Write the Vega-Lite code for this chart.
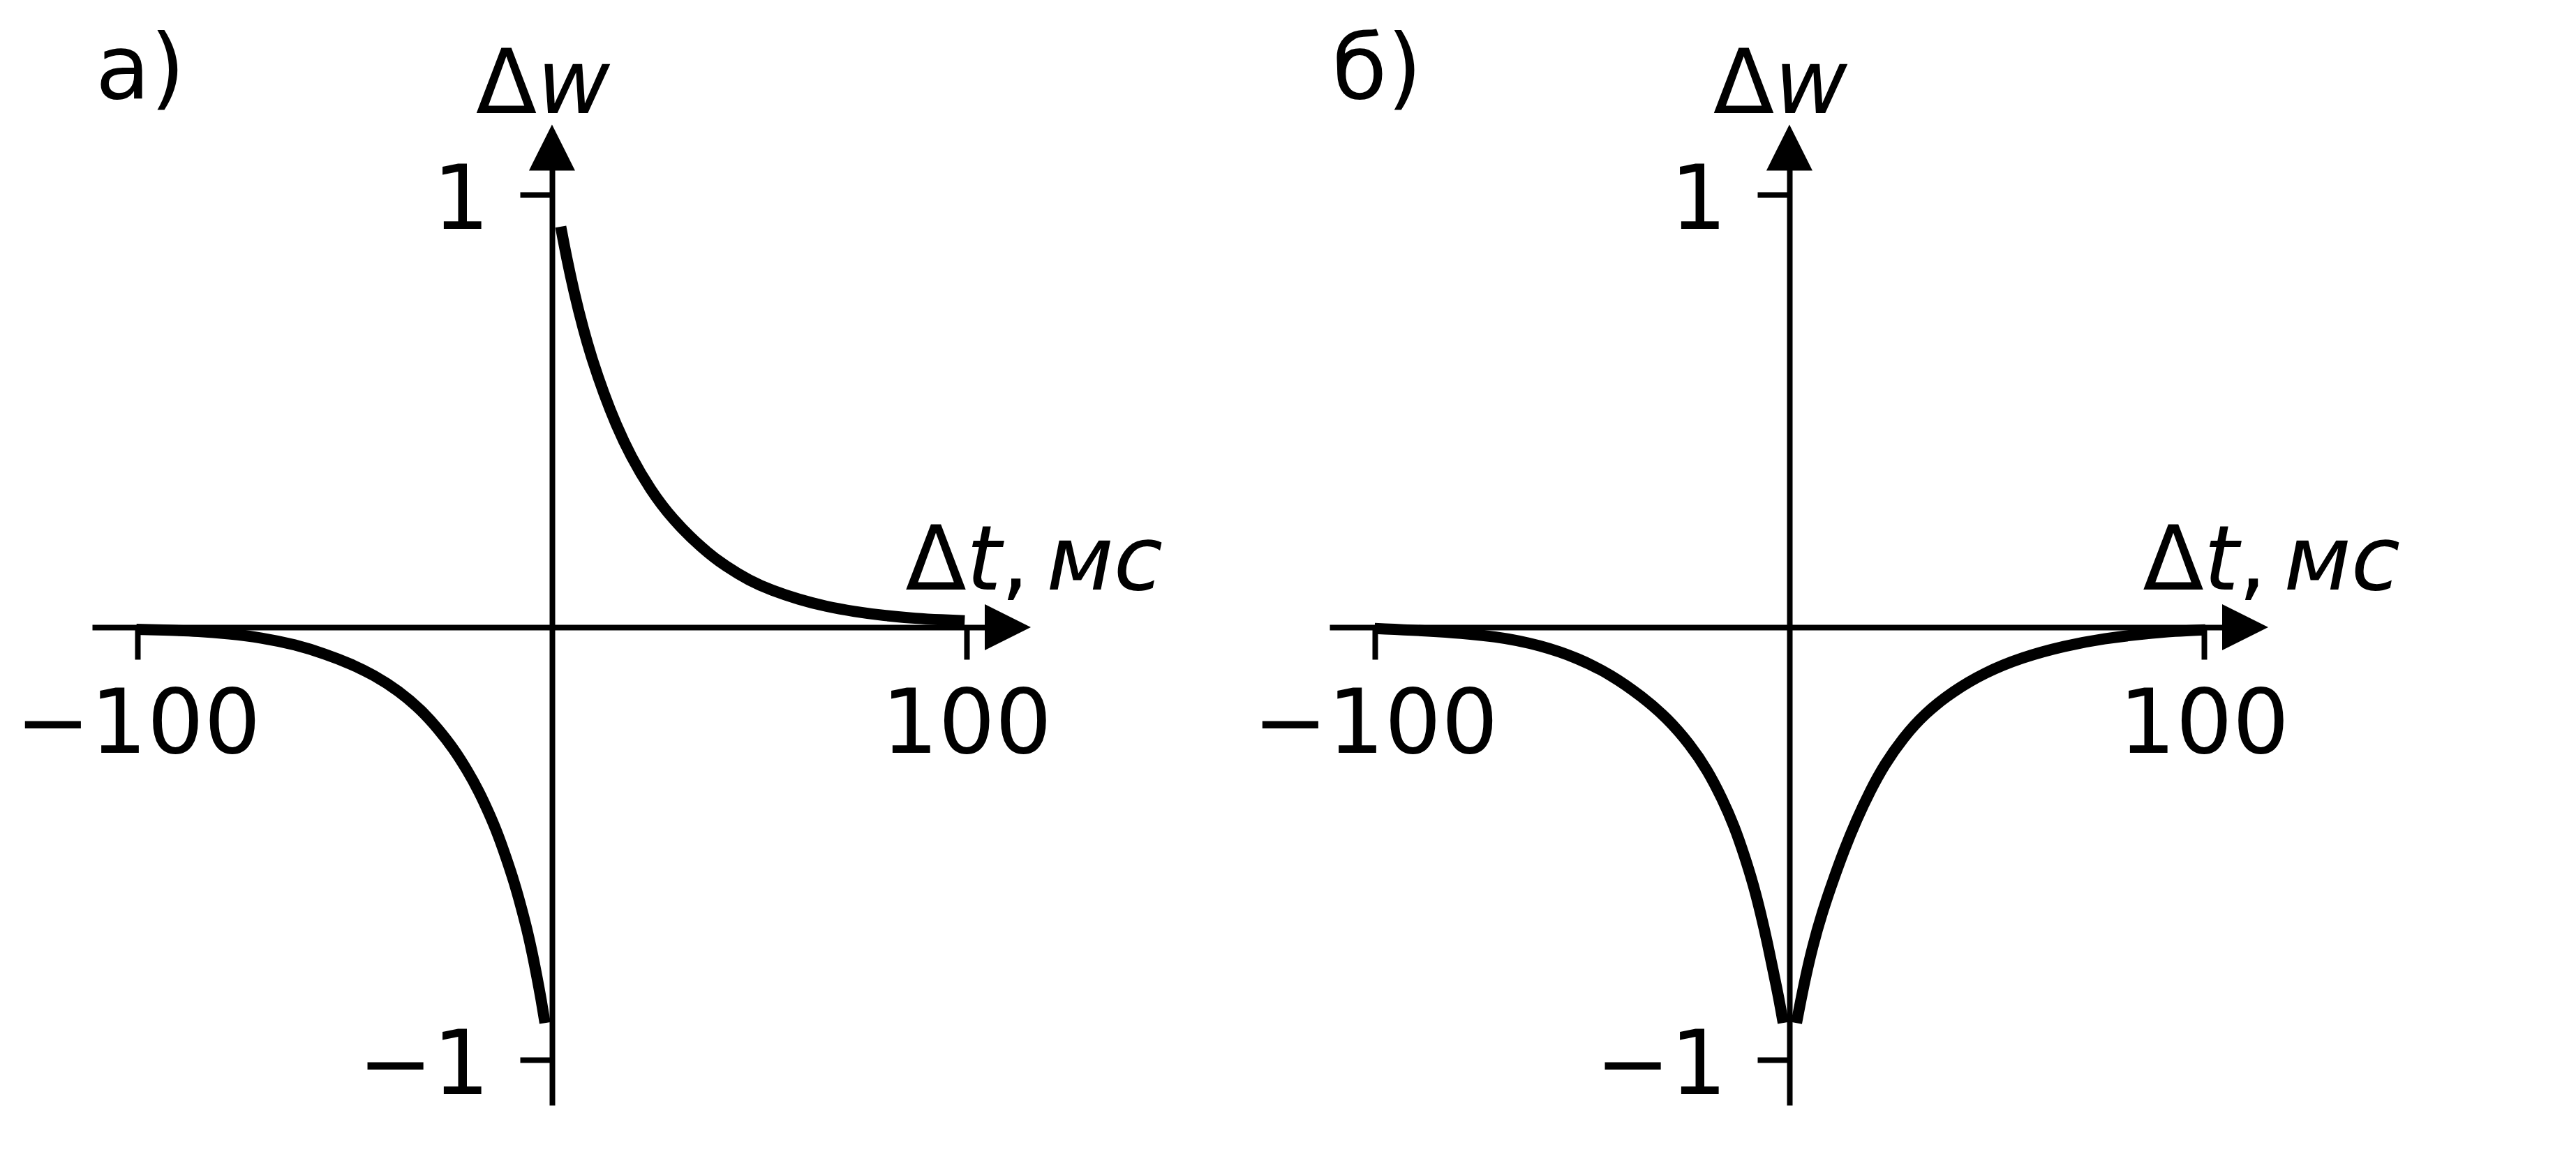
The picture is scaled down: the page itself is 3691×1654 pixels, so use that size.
{
  "$schema": "https://vega.github.io/schema/vega-lite/v6.json",
  "background": "white",
  "padding": {"left": 21, "top": 39, "right": 0, "bottom": 0},
  "autosize": {"type": "pad"},
  "bounds": "flush",
  "spacing": 461,
  "config": {
    "view": {"stroke": null},
    "font": "DejaVu Sans",
    "axis": {
      "grid": false,
      "domainColor": "black",
      "domainWidth": 8,
      "tickColor": "black",
      "tickWidth": 8,
      "tickSize": 46,
      "labelFont": "DejaVu Sans",
      "labelFontSize": 128,
      "labelColor": "black",
      "labelFlush": false,
      "labelOverlap": false,
      "labelBound": false,
      "labelLimit": 0,
      "title": null
    },
    "axisX": {"labelBaseline": "alphabetic", "labelPadding": 133},
    "axisY": {"labelBaseline": "alphabetic", "labelOffset": 49, "labelPadding": 44}
  },
  "datasets": {
    "curves": [
      {"panel": "a", "seg": "pos", "t": 2.1, "w": 0.926},
      {"panel": "a", "seg": "pos", "t": 3.5, "w": 0.855},
      {"panel": "a", "seg": "pos", "t": 5.3, "w": 0.775},
      {"panel": "a", "seg": "pos", "t": 7.5, "w": 0.69},
      {"panel": "a", "seg": "pos", "t": 9.8, "w": 0.615},
      {"panel": "a", "seg": "pos", "t": 12.5, "w": 0.54},
      {"panel": "a", "seg": "pos", "t": 15.4, "w": 0.469},
      {"panel": "a", "seg": "pos", "t": 19, "w": 0.395},
      {"panel": "a", "seg": "pos", "t": 23.7, "w": 0.318},
      {"panel": "a", "seg": "pos", "t": 29, "w": 0.25},
      {"panel": "a", "seg": "pos", "t": 36.3, "w": 0.181},
      {"panel": "a", "seg": "pos", "t": 42, "w": 0.14},
      {"panel": "a", "seg": "pos", "t": 47.6, "w": 0.108},
      {"panel": "a", "seg": "pos", "t": 53, "w": 0.085},
      {"panel": "a", "seg": "pos", "t": 59.6, "w": 0.064},
      {"panel": "a", "seg": "pos", "t": 66, "w": 0.048},
      {"panel": "a", "seg": "pos", "t": 73, "w": 0.036},
      {"panel": "a", "seg": "pos", "t": 80, "w": 0.027},
      {"panel": "a", "seg": "pos", "t": 88, "w": 0.02},
      {"panel": "a", "seg": "pos", "t": 94, "w": 0.017},
      {"panel": "a", "seg": "pos", "t": 99.6, "w": 0.015},
      {"panel": "a", "seg": "neg", "t": -100.3, "w": -0.005},
      {"panel": "a", "seg": "neg", "t": -92, "w": -0.007},
      {"panel": "a", "seg": "neg", "t": -85.6, "w": -0.009},
      {"panel": "a", "seg": "neg", "t": -78, "w": -0.015},
      {"panel": "a", "seg": "neg", "t": -70.2, "w": -0.024},
      {"panel": "a", "seg": "neg", "t": -62, "w": -0.04},
      {"panel": "a", "seg": "neg", "t": -54.7, "w": -0.062},
      {"panel": "a", "seg": "neg", "t": -48.5, "w": -0.085},
      {"panel": "a", "seg": "neg", "t": -43.1, "w": -0.11},
      {"panel": "a", "seg": "neg", "t": -37, "w": -0.147},
      {"panel": "a", "seg": "neg", "t": -31.5, "w": -0.192},
      {"panel": "a", "seg": "neg", "t": -27.5, "w": -0.235},
      {"panel": "a", "seg": "neg", "t": -23.8, "w": -0.28},
      {"panel": "a", "seg": "neg", "t": -20.5, "w": -0.33},
      {"panel": "a", "seg": "neg", "t": -17.6, "w": -0.38},
      {"panel": "a", "seg": "neg", "t": -15.2, "w": -0.43},
      {"panel": "a", "seg": "neg", "t": -13, "w": -0.48},
      {"panel": "a", "seg": "neg", "t": -11, "w": -0.535},
      {"panel": "a", "seg": "neg", "t": -9.1, "w": -0.59},
      {"panel": "a", "seg": "neg", "t": -7.5, "w": -0.645},
      {"panel": "a", "seg": "neg", "t": -6, "w": -0.70},
      {"panel": "a", "seg": "neg", "t": -4.8, "w": -0.752},
      {"panel": "a", "seg": "neg", "t": -3.7, "w": -0.805},
      {"panel": "a", "seg": "neg", "t": -2.6, "w": -0.862},
      {"panel": "a", "seg": "neg", "t": -1.7, "w": -0.915},
      {"panel": "b", "seg": "left", "t": -100.1, "w": -0.003},
      {"panel": "b", "seg": "left", "t": -85, "w": -0.009},
      {"panel": "b", "seg": "left", "t": -70.4, "w": -0.021},
      {"panel": "b", "seg": "left", "t": -60, "w": -0.042},
      {"panel": "b", "seg": "left", "t": -51.1, "w": -0.071},
      {"panel": "b", "seg": "left", "t": -43, "w": -0.11},
      {"panel": "b", "seg": "left", "t": -35.6, "w": -0.16},
      {"panel": "b", "seg": "left", "t": -29.5, "w": -0.21},
      {"panel": "b", "seg": "left", "t": -24, "w": -0.271},
      {"panel": "b", "seg": "left", "t": -19.8, "w": -0.33},
      {"panel": "b", "seg": "left", "t": -16.2, "w": -0.397},
      {"panel": "b", "seg": "left", "t": -13.3, "w": -0.46},
      {"panel": "b", "seg": "left", "t": -10.8, "w": -0.53},
      {"panel": "b", "seg": "left", "t": -8.7, "w": -0.595},
      {"panel": "b", "seg": "left", "t": -6.9, "w": -0.663},
      {"panel": "b", "seg": "left", "t": -5.3, "w": -0.73},
      {"panel": "b", "seg": "left", "t": -3.9, "w": -0.796},
      {"panel": "b", "seg": "left", "t": -2.6, "w": -0.855},
      {"panel": "b", "seg": "left", "t": -1.5, "w": -0.915},
      {"panel": "b", "seg": "right", "t": 1.7, "w": -0.915},
      {"panel": "b", "seg": "right", "t": 3.5, "w": -0.825},
      {"panel": "b", "seg": "right", "t": 5.6, "w": -0.737},
      {"panel": "b", "seg": "right", "t": 7.9, "w": -0.66},
      {"panel": "b", "seg": "right", "t": 10.4, "w": -0.589},
      {"panel": "b", "seg": "right", "t": 13.2, "w": -0.515},
      {"panel": "b", "seg": "right", "t": 16.2, "w": -0.445},
      {"panel": "b", "seg": "right", "t": 19.5, "w": -0.378},
      {"panel": "b", "seg": "right", "t": 22.9, "w": -0.318},
      {"panel": "b", "seg": "right", "t": 27.5, "w": -0.255},
      {"panel": "b", "seg": "right", "t": 32.6, "w": -0.2},
      {"panel": "b", "seg": "right", "t": 39.5, "w": -0.148},
      {"panel": "b", "seg": "right", "t": 47.1, "w": -0.105},
      {"panel": "b", "seg": "right", "t": 56, "w": -0.07},
      {"panel": "b", "seg": "right", "t": 66.4, "w": -0.043},
      {"panel": "b", "seg": "right", "t": 76, "w": -0.026},
      {"panel": "b", "seg": "right", "t": 85.8, "w": -0.015},
      {"panel": "b", "seg": "right", "t": 93, "w": -0.009},
      {"panel": "b", "seg": "right", "t": 100.4, "w": -0.006}
    ],
    "arrows": [
      {"panel": "a", "dir": "right", "t": 110, "w": 0},
      {"panel": "a", "dir": "up", "t": 0, "w": 1.109},
      {"panel": "b", "dir": "right", "t": 110, "w": 0},
      {"panel": "b", "dir": "up", "t": 0, "w": 1.109}
    ],
    "labels": [
      {"panel": "a", "text": "а)", "t": -110.2, "w": 1.222},
      {"panel": "a", "text": "Δ", "t": -18.4, "w": 1.189},
      {"panel": "a", "text": "w", "t": -3.6, "w": 1.189},
      {"panel": "a", "text": "Δ", "t": 85.3, "w": 0.087},
      {"panel": "a", "text": "t", "t": 100.0, "w": 0.087},
      {"panel": "a", "text": ",", "t": 108.3, "w": 0.087},
      {"panel": "a", "text": "мс", "t": 119.3, "w": 0.087},
      {"panel": "b", "text": "б)", "t": -110.4, "w": 1.222},
      {"panel": "b", "text": "Δ", "t": -18.4, "w": 1.189},
      {"panel": "b", "text": "w", "t": -3.6, "w": 1.189},
      {"panel": "b", "text": "Δ", "t": 85.3, "w": 0.087},
      {"panel": "b", "text": "t", "t": 100.0, "w": 0.087},
      {"panel": "b", "text": ",", "t": 108.3, "w": 0.087},
      {"panel": "b", "text": "мс", "t": 119.3, "w": 0.087}
    ]
  },
  "hconcat": [
    {
      "width": 1312,
      "height": 1367,
      "encoding": {
        "x": {"field": "t", "type": "quantitative", "scale": {"domain": [-111, 110], "nice": false, "zero": false}, "axis": {"values": [-100, 100], "offset": -685}},
        "y": {"field": "w", "type": "quantitative", "scale": {"domain": [-1.105, 1.1], "nice": false, "zero": false}, "axis": {"values": [-1, 1], "offset": -659}}
      },
      "layer": [
        {
          "data": {"name": "curves"},
          "transform": [{"filter": "datum.panel == 'a'"}],
          "mark": {"type": "line", "color": "black", "strokeWidth": 16, "strokeCap": "butt", "interpolate": "basis"},
          "encoding": {"detail": {"field": "seg", "type": "nominal"}}
        },
        {
          "data": {"name": "arrows"},
          "transform": [{"filter": "datum.panel == 'a'"}],
          "mark": {"type": "point", "filled": true, "color": "black", "opacity": 1, "size": 4356, "strokeWidth": 0},
          "encoding": {"shape": {"field": "dir", "type": "nominal", "scale": {"domain": ["right", "up"], "range": ["M-1,-1L1,0L-1,1Z", "M-1,1L0,-1L1,1Z"]}, "legend": null}}
        },
        {
          "data": {"name": "labels"},
          "transform": [{"filter": "datum.panel == 'a' && indexof(['w', 't', 'мс'], datum.text) < 0"}],
          "mark": {"type": "text", "font": "DejaVu Sans", "fontSize": 128, "align": "left", "baseline": "alphabetic", "color": "black"},
          "encoding": {"text": {"field": "text"}}
        },
        {
          "data": {"name": "labels"},
          "transform": [{"filter": "datum.panel == 'a' && indexof(['w', 't', 'мс'], datum.text) >= 0"}],
          "mark": {"type": "text", "font": "DejaVu Sans", "fontStyle": "italic", "fontSize": 128, "align": "left", "baseline": "alphabetic", "color": "black"},
          "encoding": {"text": {"field": "text"}}
        }
      ]
    },
    {
      "width": 1312,
      "height": 1367,
      "encoding": {
        "x": {"field": "t", "type": "quantitative", "scale": {"domain": [-111, 110], "nice": false, "zero": false}, "axis": {"values": [-100, 100], "offset": -685}},
        "y": {"field": "w", "type": "quantitative", "scale": {"domain": [-1.105, 1.1], "nice": false, "zero": false}, "axis": {"values": [-1, 1], "offset": -659}}
      },
      "layer": [
        {
          "data": {"name": "curves"},
          "transform": [{"filter": "datum.panel == 'b'"}],
          "mark": {"type": "line", "color": "black", "strokeWidth": 16, "strokeCap": "butt", "interpolate": "basis"},
          "encoding": {"detail": {"field": "seg", "type": "nominal"}}
        },
        {
          "data": {"name": "arrows"},
          "transform": [{"filter": "datum.panel == 'b'"}],
          "mark": {"type": "point", "filled": true, "color": "black", "opacity": 1, "size": 4356, "strokeWidth": 0},
          "encoding": {"shape": {"field": "dir", "type": "nominal", "scale": {"domain": ["right", "up"], "range": ["M-1,-1L1,0L-1,1Z", "M-1,1L0,-1L1,1Z"]}, "legend": null}}
        },
        {
          "data": {"name": "labels"},
          "transform": [{"filter": "datum.panel == 'b' && indexof(['w', 't', 'мс'], datum.text) < 0"}],
          "mark": {"type": "text", "font": "DejaVu Sans", "fontSize": 128, "align": "left", "baseline": "alphabetic", "color": "black"},
          "encoding": {"text": {"field": "text"}}
        },
        {
          "data": {"name": "labels"},
          "transform": [{"filter": "datum.panel == 'b' && indexof(['w', 't', 'мс'], datum.text) >= 0"}],
          "mark": {"type": "text", "font": "DejaVu Sans", "fontStyle": "italic", "fontSize": 128, "align": "left", "baseline": "alphabetic", "color": "black"},
          "encoding": {"text": {"field": "text"}}
        }
      ]
    }
  ]
}
